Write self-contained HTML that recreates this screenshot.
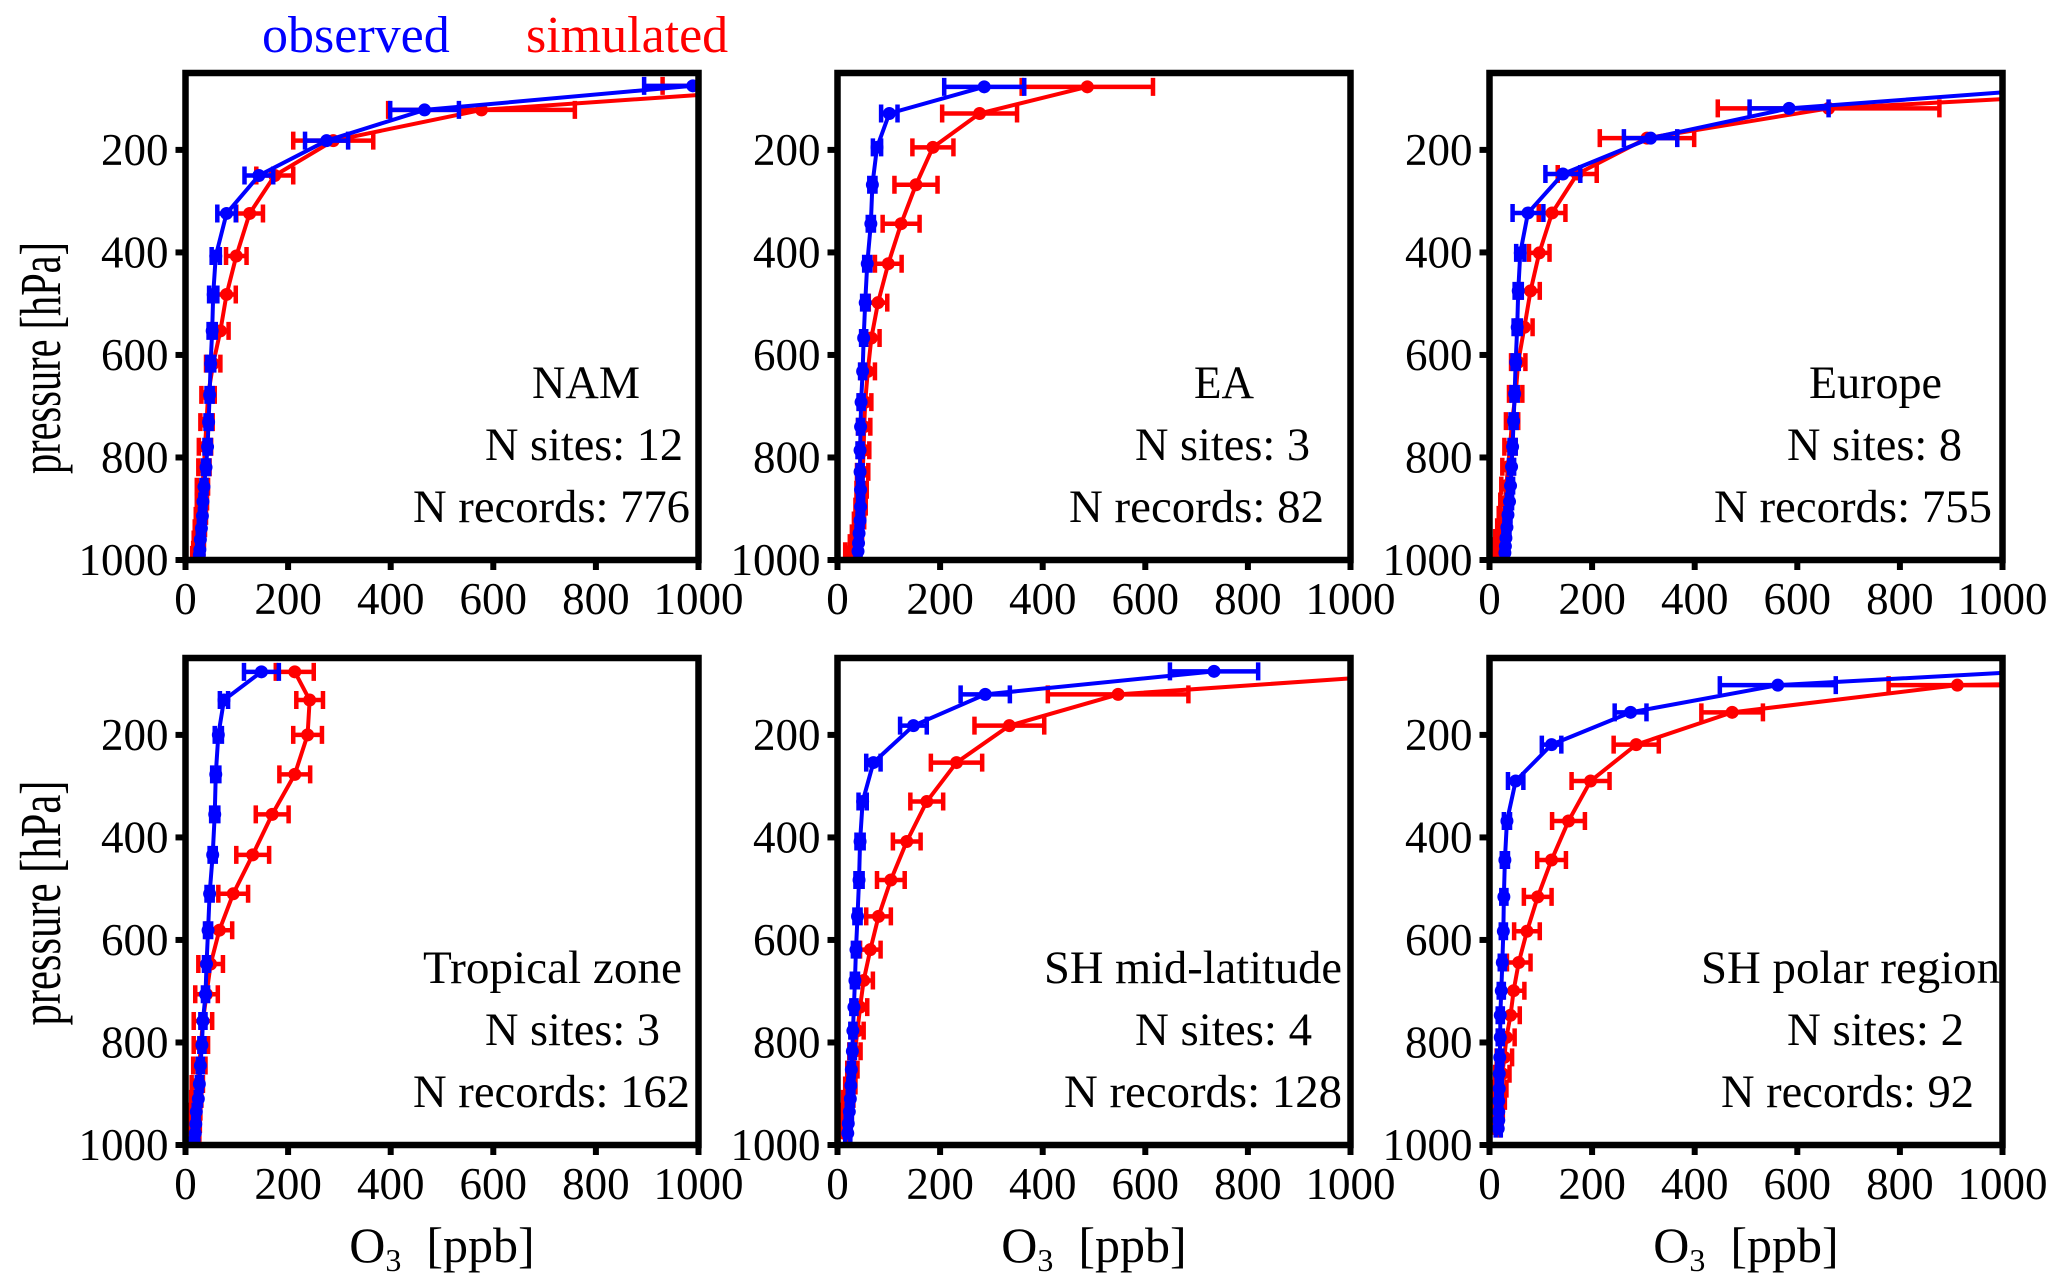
<!DOCTYPE html>
<html><head><meta charset="utf-8"><style>
html,body{margin:0;padding:0;background:#fff}
svg{display:block;font-family:"Liberation Serif",serif}
</style></head><body>
<svg id="fig" width="2067" height="1283" viewBox="0 0 2067 1283" xmlns="http://www.w3.org/2000/svg">
<text x="262" y="52" font-size="52" fill="#0000ff">observed</text>
<text x="526" y="52" font-size="52" fill="#ff0000">simulated</text>
<text transform="translate(60,358) rotate(-90)" text-anchor="middle" font-size="58" textLength="232" lengthAdjust="spacingAndGlyphs">pressure [hPa]</text>
<text transform="translate(60,903) rotate(-90)" text-anchor="middle" font-size="58" textLength="245" lengthAdjust="spacingAndGlyphs">pressure [hPa]</text>
</svg>
<script>
const xTicks=[0,200,400,600,800,1000];
const yTicks=[200,400,600,800,1000];
const panelNames=["NAM","EA","Europe","Tropical zone","SH mid-latitude","SH polar region"];
const nSites=["N sites: 12","N sites: 3","N sites: 8","N sites: 3","N sites: 4","N sites: 2"];
const nRecords=["N records: 776","N records: 82","N records: 755","N records: 162","N records: 128","N records: 92"];

const levels0=[75,122,182,250,324,407,482,553,617,678,731,779,819,857,886,914,938,960,980,990];
const obs0=[989,466,275,143,80,59,54,52,49,47,45,43,40,36,34,33,31,29,28,27];
const obsErr0=[95,67,42,28,18,8,8,7,7,6,6,6,6,5,5,5,5,5,5,5];
const sim0=[1260,577,288,174,125,99,80,68,54,44,41,38,36,33,32,30,28,26,25,23];
const simErr0=[330,182,78,36,26,20,18,16,14,13,12,12,11,11,10,10,10,10,10,10];

const levels1=[77,129,195,268,344,422,498,567,632,692,740,786,828,863,896,923,948,967,983];
const obs1=[286,101,77,68,65,58,54,51,49,46,45,44,44,45,45,44,42,41,40];
const obsErr1=[78,16,8,6,6,6,6,5,5,5,5,5,5,5,5,5,5,5,5];
const sim1=[487,277,186,153,124,99,79,66,59,54,52,51,49,47,45,42,38,34,25];
const simErr1=[128,73,40,42,36,26,18,16,14,12,12,11,11,10,10,10,10,10,10];

const levels2=[75,119,177,247,323,401,475,546,614,676,729,779,818,855,886,912,936,957,973,986];
const obs2=[1170,584,314,143,75,60,56,54,51,49,47,45,43,41,39,36,34,32,31,30];
const obsErr2=[150,77,52,34,30,8,7,7,6,6,6,6,5,5,5,5,5,5,5,5];
const sim2=[1490,661,307,171,122,97,80,68,56,51,44,40,36,33,31,28,25,21,18,15];
const simErr2=[300,216,92,38,26,20,18,16,14,13,12,11,11,10,10,10,10,10,10,10];

const levels3=[77,132,200,277,355,434,510,581,647,706,758,805,845,881,910,935,959,977,990];
const obs3=[148,75,64,59,57,53,47,44,41,39,34,32,29,27,25,21,20,19,17];
const obsErr3=[34,8,7,7,7,6,6,6,5,5,5,5,5,5,5,5,5,5,5];
const sim3=[213,242,238,213,169,131,93,66,49,41,34,30,27,23,21,19,18,17,15];
const simErr3=[37,26,28,30,32,32,29,25,24,22,18,14,12,11,10,10,10,10,10];

const levels4=[76,121,182,254,330,408,483,554,619,679,731,777,817,853,884,910,935,958,977];
const obs4=[734,288,148,70,49,44,42,39,36,34,32,30,29,27,26,25,23,21,20];
const obsErr4=[86,48,26,14,8,7,7,6,6,6,5,5,5,5,5,5,5,5,5];
const sim4=[1200,547,335,232,174,135,104,80,64,51,44,39,34,29,25,21,18,15,12];
const simErr4=[150,137,68,50,32,27,27,24,20,18,14,12,11,10,10,10,10,10,10];

const levels5=[75,103,156,219,290,368,444,516,583,644,699,747,790,829,861,890,914,935,952,968];
const obs5=[1073,562,275,121,51,34,30,28,27,25,23,21,21,20,19,19,18,18,18,17];
const obsErr5=[60,113,31,19,15,6,6,5,5,5,5,5,5,5,5,5,5,5,5,5];
const sim5=[2200,912,473,286,197,154,121,94,73,57,47,41,33,29,25,21,18,16,14,10];
const simErr5=[300,134,60,44,37,32,28,27,25,23,21,18,16,15,14,12,12,10,10,10];

const allLevels=[levels0,levels1,levels2,levels3,levels4,levels5];
const allObs=[obs0,obs1,obs2,obs3,obs4,obs5];
const allObsErr=[obsErr0,obsErr1,obsErr2,obsErr3,obsErr4,obsErr5];
const allSim=[sim0,sim1,sim2,sim3,sim4,sim5];
const allSimErr=[simErr0,simErr1,simErr2,simErr3,simErr4,simErr5];

const NS="http://www.w3.org/2000/svg";
const svg=document.getElementById('fig');
const colX=[185.5,837.5,1489.5], rowY=[73,658];
const W=513, H=487, XMAX=1000, PMIN=50, PMAX=1000;
const annLayout=[
 [[532,108],[485,198],[413,277]],
 [[1194,60],[1135,175],[1069,255]],
 [[1809,133],[1787,175],[1714,278]],
 [[423,259],[485,175],[413,277]],
 [[1044,298],[1135,177],[1064,278]],
 [[1701,299],[1787,177],[1721,253]]
];
function mk(tag,attrs,parent){const e=document.createElementNS(NS,tag);for(const k in attrs)e.setAttribute(k,attrs[k]);(parent||svg).appendChild(e);return e;}

for(let i=0;i<6;i++){
  const x0=colX[i%3], y0=rowY[Math.floor(i/3)];
  const sx=v=>x0+v/XMAX*W;
  const sy=p=>y0+(p-PMIN)/(PMAX-PMIN)*H;
  const g=mk('g',{});
  
  
  const cp=mk('clipPath',{id:'cp'+i},g);
  mk('rect',{x:x0,y:y0,width:W,height:H},cp);
  const dg=mk('g',{'clip-path':'url(#cp'+i+')'},g);
  const series=[[allObs[i],allObsErr[i],'#0000ff','observed'],[allSim[i],allSimErr[i],'#ff0000','simulated']];
  const lev=allLevels[i];
  [series[1],series[0]].forEach(s=>{
    const [vals,errs,col,nm]=s;
    const sg=mk('g',{},dg);
    
    
    for(let k=0;k<vals.length;k++){
      const y=sy(lev[k]), xa=sx(vals[k]-errs[k]), xb=sx(vals[k]+errs[k]);
      const eb=mk('path',{d:`M${xa},${y}H${xb}M${xa},${y-9}V${y+9}M${xb},${y-9}V${y+9}`,stroke:col,'stroke-width':4.5,fill:'none'},sg);
      
      
    }
    const pts=vals.map((v,k)=>sx(v)+','+sy(lev[k])).join(' ');
    const pl=mk('polyline',{points:pts,stroke:col,'stroke-width':4,fill:'none','stroke-linejoin':'round'},sg);
    
    
    for(let k=0;k<vals.length;k++){
      const c=mk('circle',{cx:sx(vals[k]),cy:sy(lev[k]),r:6.5,fill:col},sg);
      
      
    }
  });
  const fr=mk('rect',{x:x0,y:y0,width:W,height:H,fill:'none',stroke:'#000','stroke-width':6.5},g);
  
  
  xTicks.forEach(t=>{
    const x=sx(t);
    const tk=mk('line',{x1:x,x2:x,y1:y0+H,y2:y0+H+10,stroke:'#000','stroke-width':6},g);
    
    
    const tl=mk('text',{x:x,y:y0+H+54,'text-anchor':'middle','font-size':45},g);
    tl.textContent=String(t);
    
    
  });
  yTicks.forEach(t=>{
    const y=sy(t);
    const tk=mk('line',{x1:x0-10,x2:x0,y1:y,y2:y,stroke:'#000','stroke-width':6},g);
    
    
    const tl=mk('text',{x:x0-17,y:y+15,'text-anchor':'end','font-size':45},g);
    tl.textContent=String(t);
    
    
  });
  const texts=[panelNames[i],nSites[i],nRecords[i]];
  const base=[y0+325,y0+387,y0+449];
  texts.forEach((t,k)=>{
    const L=annLayout[i][k];
    const tx=mk('text',{x:L[0],y:base[k],'font-size':47,textLength:L[1],lengthAdjust:'spacingAndGlyphs'},g);
    tx.textContent=t;
    
    
  });
  if(i>=3){
    const xl=mk('text',{x:x0+W/2,y:1262,'text-anchor':'middle','font-size':50},g);
    
    
    xl.innerHTML='O<tspan font-size="32" dy="9">3</tspan><tspan dy="-9">  [ppb]</tspan>';
    xl.style.whiteSpace='pre';
  }
}
</script>
</body></html>
